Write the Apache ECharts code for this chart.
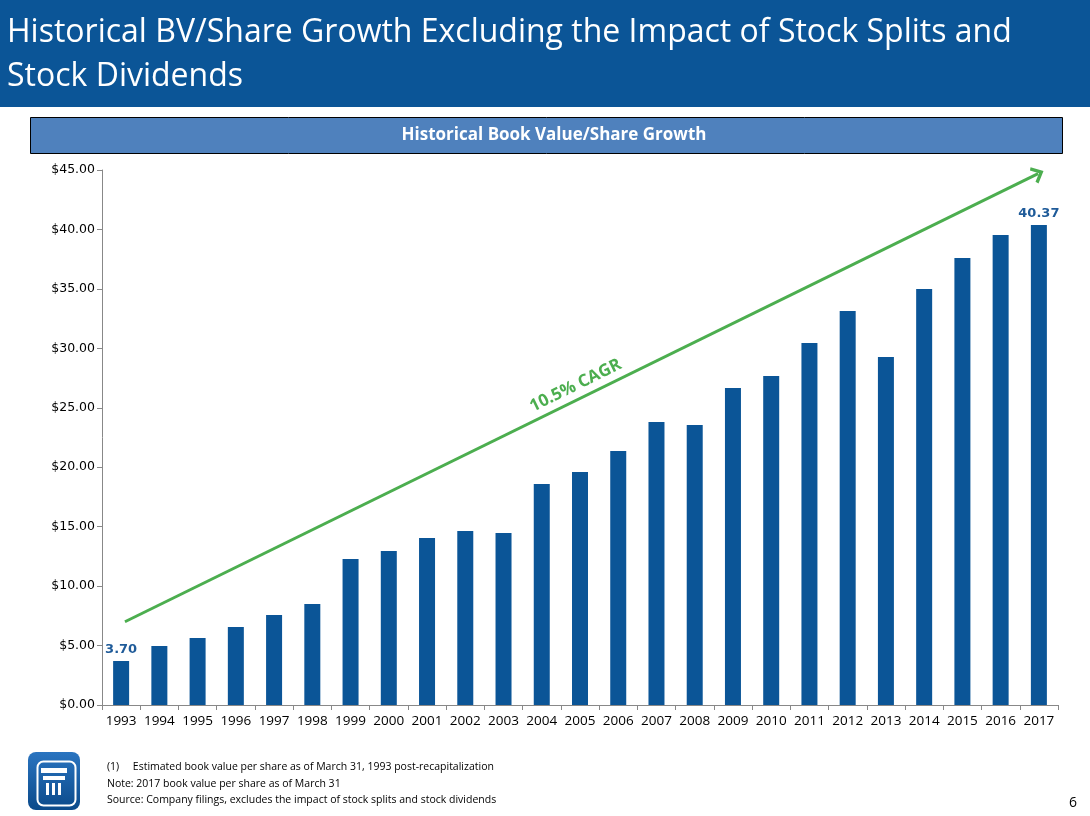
<!DOCTYPE html>
<html><head><meta charset="utf-8">
<script src="https://cdn.jsdelivr.net/npm/echarts@6/dist/echarts.min.js"></script>
<style>html,body{margin:0;padding:0;background:#fff}#c{width:1090px;height:816px}</style>
</head><body><div id="c"></div>
<script>
const years = ['1993','1994','1995','1996','1997','1998','1999','2000','2001','2002','2003','2004','2005','2006','2007','2008','2009','2010','2011','2012','2013','2014','2015','2016','2017'];
const bookValue = [3.70,4.96,5.63,6.56,7.57,8.49,12.28,12.95,14.05,14.63,14.47,18.59,19.60,21.36,23.80,23.55,26.66,27.67,30.45,33.14,29.27,34.99,37.59,39.53,40.37];
const trendStart = [0.1, 7.0];
const trendEnd = [23.98, 44.7];
const yTicks = {min:0, max:45, interval:5};
const titleText = 'Historical BV/Share Growth Excluding the Impact of Stock Splits and\nStock Dividends';
const subtitleText = 'Historical Book Value/Share Growth';
const trendLabel = '10.5% CAGR';
const notes = ['(1)     Estimated book value per share as of March 31, 1993 post-recapitalization','Note: 2017 book value per share as of March 31','Source: Company filings, excludes the impact of stock splits and stock dividends'];

const blue = '#0b5597';
const green = '#4cae4f';
const chart = echarts.init(document.getElementById('c'));
chart.setOption({
  animation:false,
  grid:{left:102,right:32,top:170,bottom:111,containLabel:false,outerBoundsMode:'none'},
  xAxis:[{
    type:'category', data:years,
    axisLine:{onZero:false,lineStyle:{color:'#888'}},
    axisTick:{show:true,lineStyle:{color:'#888'}},
    axisLabel:{color:'#000',fontFamily:'Open Sans',fontSize:13.5,interval:0,margin:9}
  },{
    type:'value', min:-0.5, max:years.length-0.5, show:false
  }],
  yAxis:{
    type:'value', min:yTicks.min, max:yTicks.max, interval:yTicks.interval,
    splitLine:{show:false},
    axisLine:{show:true,onZero:false,lineStyle:{color:'#888'}},
    axisTick:{show:true,length:5,lineStyle:{color:'#888'}},
    axisLabel:{color:'#000',fontFamily:'DejaVu Sans',fontSize:12.5,margin:7,
      formatter:v=>'$'+v.toFixed(2)}
  },
  series:[{
    type:'bar', data:bookValue.map((v,i)=>({value:v,label:{show:(i===0||i===bookValue.length-1)}})),
    barWidth:16, itemStyle:{color:blue},
    label:{position:'top',color:'#1f5b99',fontFamily:'DejaVu Sans',fontWeight:'bold',fontSize:13,
      formatter:p=>p.value.toFixed(2)},
  },{
    type:'line', xAxisIndex:1, data:[], silent:true,
    markLine:{
      silent:true,
      symbol:['none','path://M0,10 L10,0 L20,10 L17,12 L10,5 L3,12 Z'],
      symbolSize:[18,12],
      lineStyle:{color:green,width:3,type:'solid'},
      label:{show:true,position:'middle',formatter:trendLabel,color:green,fontWeight:'bold',
        fontFamily:'Open Sans',fontSize:17,distance:5},
      data:[[{coord:trendStart},{coord:trendEnd}]]
    }
  }],
  graphic:[
    {type:'rect',left:0,top:0,shape:{width:1090,height:107},style:{fill:blue}},
    {type:'text',left:7,top:11,style:{text:titleText,fill:'#fff',fontFamily:'Open Sans',fontSize:32,lineHeight:44}},
    {type:'rect',left:30,top:117,shape:{width:1032,height:36},style:{fill:'#4f81bd',stroke:'#000',lineWidth:1}},
    {type:'text',x:554,y:135,style:{text:subtitleText,fill:'#fff',fontFamily:'Open Sans',fontWeight:'bold',fontSize:17,align:'center',verticalAlign:'middle'}},
    {type:'rect',left:28,top:752,shape:{width:52,height:58,r:8},style:{fill:{type:'linear',x:0,y:0,x2:0,y2:1,colorStops:[{offset:0,color:'#2a74c0'},{offset:1,color:'#0b4a8a'}]}}},
    {type:'rect',left:35,top:759,shape:{width:38,height:44,r:6},style:{fill:'none',stroke:'#fff',lineWidth:2}},
    {type:'rect',left:41,top:768,shape:{width:26,height:5},style:{fill:'#fff'}},
    {type:'rect',left:43,top:776,shape:{width:22,height:4},style:{fill:'#fff'}},
    {type:'rect',left:46,top:783,shape:{width:3,height:12},style:{fill:'#fff'}},
    {type:'rect',left:52,top:783,shape:{width:3,height:12},style:{fill:'#fff'}},
    {type:'rect',left:58,top:783,shape:{width:3,height:12},style:{fill:'#fff'}},
    {type:'text',left:107,top:759,style:{text:notes.join('\n'),fill:'#000',fontFamily:'Open Sans',fontSize:10.5,lineHeight:16.5}},
    {type:'text',left:1069,top:796,style:{text:'6',fill:'#000',fontFamily:'Open Sans',fontSize:14}}
  ]
});
</script></body></html>
